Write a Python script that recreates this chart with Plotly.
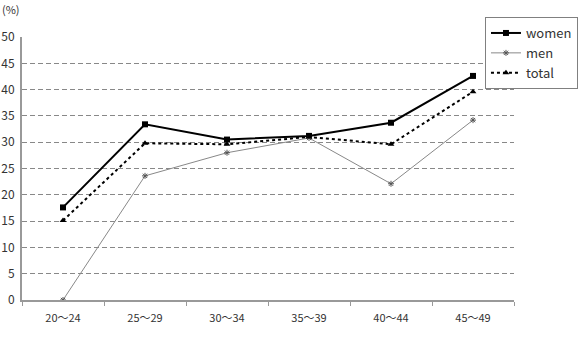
import plotly.graph_objects as go

categories = ["20～24", "25～29", "30～34", "35～39", "40～44", "45～49"]
women = [17.6, 33.4, 30.5, 31.2, 33.7, 42.6]
men = [0.0, 23.6, 28.0, 30.8, 22.1, 34.2]
total = [15.1, 29.8, 29.6, 31.0, 29.6, 39.6]
y_ticks = list(range(0, 55, 5))

FONT = "Noto Sans CJK KR"

fig = go.Figure()
fig.add_trace(go.Scatter(
    x=categories, y=women, name="women", mode="lines+markers",
    line=dict(color="black", width=2),
    marker=dict(symbol="square", size=6, color="black"),
))
fig.add_trace(go.Scatter(
    x=categories, y=men, name="men", mode="lines+markers",
    line=dict(color="#888888", width=1),
    marker=dict(symbol="asterisk-open", size=5, color="#555555",
                line=dict(color="#555555", width=1)),
))
fig.add_trace(go.Scatter(
    x=categories, y=total, name="total", mode="lines+markers",
    line=dict(color="black", width=2, dash="dot"),
    marker=dict(symbol="triangle-up", size=6, color="black"),
))

fig.update_layout(
    width=580, height=356,
    margin=dict(l=22, r=66, t=37, b=56, autoexpand=False),
    paper_bgcolor="white", plot_bgcolor="white",
    font=dict(family=FONT, size=11, color="#333333"),
    showlegend=True,
    legend=dict(
        x=0.941, y=1.076, xanchor="left", yanchor="top",
        bordercolor="#808080", borderwidth=1, bgcolor="white",
        font=dict(family=FONT, size=13, color="#333333"),
        tracegroupgap=0, itemwidth=30,
    ),
    annotations=[dict(
        text="(%)", xref="paper", yref="paper", x=-0.045, y=1.105,
        xanchor="left", yanchor="middle", showarrow=False,
        font=dict(family=FONT, size=11, color="#333333"),
    )],
)
fig.update_xaxes(
    type="category", range=[-0.5, 5.5], automargin=False,
    showline=True, linecolor="#999999", linewidth=2,
    tickson="boundaries", ticks="outside", ticklen=4, tickcolor="#999999",
    ticklabelstandoff=7,
    showgrid=False, tickfont=dict(size=11, color="#333333"),
)
fig.update_yaxes(
    range=[0, 50], tickvals=y_ticks, automargin=False,
    showline=True, linecolor="#999999", linewidth=2,
    showgrid=True, gridcolor="#888888", griddash="5px,3px", gridwidth=1,
    zeroline=False, ticks="", ticklabelstandoff=3,
    tickfont=dict(size=12, color="#333333"),
)

fig.write_html("out.html")
